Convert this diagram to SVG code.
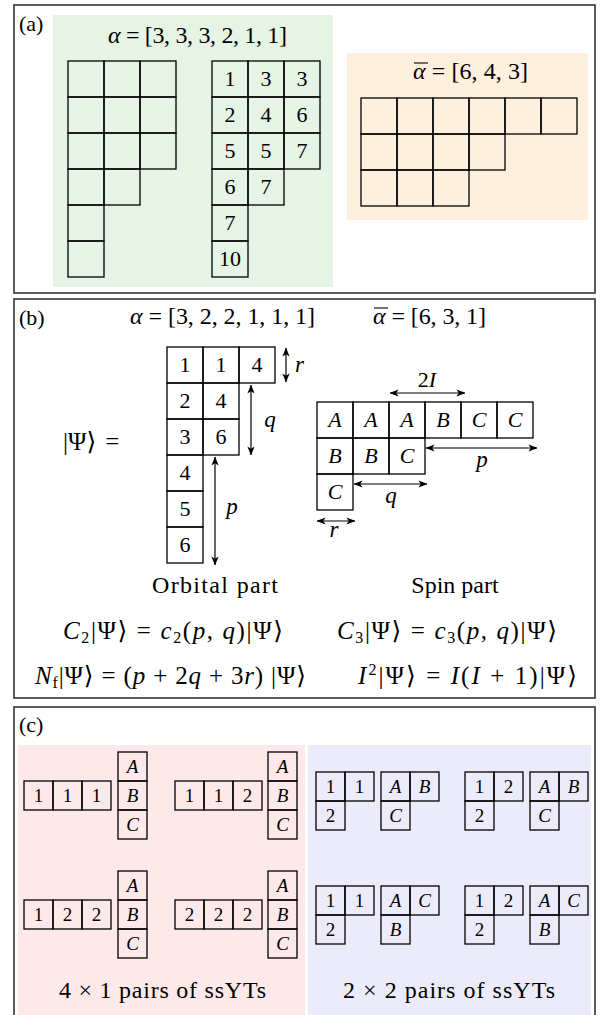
<svg xmlns="http://www.w3.org/2000/svg" width="602" height="1015" viewBox="0 0 602 1015">
<style>
text{font-family:"Liberation Serif","DejaVu Serif",serif;font-size:22px;fill:#000}
.i{font-style:italic}
.c{text-anchor:middle}
.cell{fill:none;stroke:#000;stroke-width:1.3}
.panel{fill:#fff;stroke:#333;stroke-width:1.6}
.arr{stroke:#000;stroke-width:1.2;fill:none;marker-start:url(#ah);marker-end:url(#ah)}
.sub{font-size:16px}
.eq{font-size:25px}
.sm{font-size:19px}
.big{font-size:24px}
.lab{font-size:23px;font-style:italic}
.ov{stroke:#000;stroke-width:1.1}
</style>
<defs>
<marker id="ah" viewBox="0 0 10 10" refX="9.5" refY="5" markerWidth="9" markerHeight="9" markerUnits="userSpaceOnUse" orient="auto-start-reverse">
<path d="M0,1 L10,5 L0,9 L2.5,5 z" fill="#000"/>
</marker>
</defs>
<rect width="602" height="1015" fill="#fff"/>

<!-- Panel (a) -->
<g id="panel-a">
<rect class="panel" x="14" y="5" width="581" height="288"/>
<rect x="53" y="15" width="280" height="272" fill="#e6f4e6"/>
<rect x="347" y="53" width="241" height="167" fill="#fef0df"/>
<text x="19" y="31">(a)</text>
<text x="108" y="43" class="big" textLength="179" lengthAdjust="spacing"><tspan class="i">α</tspan> = [3, 3, 3, 2, 1, 1]</text>
<text x="413" y="79" class="big" textLength="115" lengthAdjust="spacing"><tspan class="i">α</tspan> = [6, 4, 3]</text>
<line class="ov" x1="414" y1="63" x2="428" y2="63"/>
</g>
<g id="a-shape">
<rect class="cell" x="68" y="61" width="36" height="36"/><rect class="cell" x="104" y="61" width="36" height="36"/><rect class="cell" x="140" y="61" width="36" height="36"/>
<rect class="cell" x="68" y="97" width="36" height="36"/><rect class="cell" x="104" y="97" width="36" height="36"/><rect class="cell" x="140" y="97" width="36" height="36"/>
<rect class="cell" x="68" y="133" width="36" height="36"/><rect class="cell" x="104" y="133" width="36" height="36"/><rect class="cell" x="140" y="133" width="36" height="36"/>
<rect class="cell" x="68" y="169" width="36" height="36"/><rect class="cell" x="104" y="169" width="36" height="36"/>
<rect class="cell" x="68" y="205" width="36" height="36"/>
<rect class="cell" x="68" y="241" width="36" height="36"/>
</g>
<g id="a-filled">
<rect class="cell" x="212" y="61" width="36" height="36"/><rect class="cell" x="248" y="61" width="36" height="36"/><rect class="cell" x="284" y="61" width="36" height="36"/>
<rect class="cell" x="212" y="97" width="36" height="36"/><rect class="cell" x="248" y="97" width="36" height="36"/><rect class="cell" x="284" y="97" width="36" height="36"/>
<rect class="cell" x="212" y="133" width="36" height="36"/><rect class="cell" x="248" y="133" width="36" height="36"/><rect class="cell" x="284" y="133" width="36" height="36"/>
<rect class="cell" x="212" y="169" width="36" height="36"/><rect class="cell" x="248" y="169" width="36" height="36"/>
<rect class="cell" x="212" y="205" width="36" height="36"/>
<rect class="cell" x="212" y="241" width="36" height="36"/>
<text class="c" x="230" y="86">1</text><text class="c" x="266" y="86">3</text><text class="c" x="302" y="86">3</text>
<text class="c" x="230" y="122">2</text><text class="c" x="266" y="122">4</text><text class="c" x="302" y="122">6</text>
<text class="c" x="230" y="158">5</text><text class="c" x="266" y="158">5</text><text class="c" x="302" y="158">7</text>
<text class="c" x="230" y="194">6</text><text class="c" x="266" y="194">7</text>
<text class="c" x="230" y="230">7</text>
<text class="c" x="230" y="266">10</text>
</g>
<g id="a-conj">
<rect class="cell" x="361" y="98" width="36" height="36"/><rect class="cell" x="397" y="98" width="36" height="36"/><rect class="cell" x="433" y="98" width="36" height="36"/><rect class="cell" x="469" y="98" width="36" height="36"/><rect class="cell" x="505" y="98" width="36" height="36"/><rect class="cell" x="541" y="98" width="36" height="36"/>
<rect class="cell" x="361" y="134" width="36" height="36"/><rect class="cell" x="397" y="134" width="36" height="36"/><rect class="cell" x="433" y="134" width="36" height="36"/><rect class="cell" x="469" y="134" width="36" height="36"/>
<rect class="cell" x="361" y="170" width="36" height="36"/><rect class="cell" x="397" y="170" width="36" height="36"/><rect class="cell" x="433" y="170" width="36" height="36"/>
</g>

<!-- Panel (b) -->
<g id="panel-b">
<rect class="panel" x="14" y="299" width="581" height="399"/>
<text x="19" y="325">(b)</text>
<text x="130" y="324" class="big" textLength="185" lengthAdjust="spacing"><tspan class="i">α</tspan> = [3, 2, 2, 1, 1, 1]</text>
<text x="373" y="324" class="big" textLength="113" lengthAdjust="spacing"><tspan class="i">α</tspan> = [6, 3, 1]</text>
<line class="ov" x1="374" y1="308" x2="388" y2="308"/>
<text x="63" y="450" class="eq">|Ψ⟩<tspan dx="9">=</tspan></text>
<text x="215" y="593" class="c big" textLength="126" lengthAdjust="spacing">Orbital part</text>
<text x="455" y="593" class="c big">Spin part</text>
<text x="63" y="639" class="eq" textLength="220" lengthAdjust="spacing"><tspan class="i">C</tspan><tspan class="sub" dy="4">2</tspan><tspan dy="-4">|Ψ⟩ = </tspan><tspan class="i">c</tspan><tspan class="sub" dy="4">2</tspan><tspan dy="-4">(</tspan><tspan class="i">p</tspan>, <tspan class="i">q</tspan>)|Ψ⟩</text>
<text x="337" y="639" class="eq" textLength="220" lengthAdjust="spacing"><tspan class="i">C</tspan><tspan class="sub" dy="4">3</tspan><tspan dy="-4">|Ψ⟩ = </tspan><tspan class="i">c</tspan><tspan class="sub" dy="4">3</tspan><tspan dy="-4">(</tspan><tspan class="i">p</tspan>, <tspan class="i">q</tspan>)|Ψ⟩</text>
<text x="35" y="684" class="eq" textLength="271" lengthAdjust="spacing"><tspan class="i">N</tspan><tspan class="sub" dy="4">f</tspan><tspan dy="-4">|Ψ⟩ = (</tspan><tspan class="i">p</tspan> + 2<tspan class="i">q</tspan> + 3<tspan class="i">r</tspan>) |Ψ⟩</text>
<text x="358" y="684" class="eq" textLength="219" lengthAdjust="spacing"><tspan class="i">I</tspan><tspan class="sub" dy="-9">2</tspan><tspan dy="9">|Ψ⟩ = </tspan><tspan class="i">I</tspan>(<tspan class="i">I</tspan> + 1)|Ψ⟩</text>
</g>
<g id="b-orbital">
<rect class="cell" x="167" y="347" width="36" height="36"/><rect class="cell" x="203" y="347" width="36" height="36"/><rect class="cell" x="239" y="347" width="36" height="36"/>
<rect class="cell" x="167" y="383" width="36" height="36"/><rect class="cell" x="203" y="383" width="36" height="36"/>
<rect class="cell" x="167" y="419" width="36" height="36"/><rect class="cell" x="203" y="419" width="36" height="36"/>
<rect class="cell" x="167" y="455" width="36" height="36"/>
<rect class="cell" x="167" y="491" width="36" height="36"/>
<rect class="cell" x="167" y="527" width="36" height="36"/>
<text class="c" x="185" y="372">1</text><text class="c" x="221" y="372">1</text><text class="c" x="257" y="372">4</text>
<text class="c" x="185" y="408">2</text><text class="c" x="221" y="408">4</text>
<text class="c" x="185" y="444">3</text><text class="c" x="221" y="444">6</text>
<text class="c" x="185" y="480">4</text>
<text class="c" x="185" y="516">5</text>
<text class="c" x="185" y="552">6</text>
</g>
<g id="b-spin">
<rect class="cell" x="317" y="402" width="36" height="36"/><rect class="cell" x="353" y="402" width="36" height="36"/><rect class="cell" x="389" y="402" width="36" height="36"/><rect class="cell" x="425" y="402" width="36" height="36"/><rect class="cell" x="461" y="402" width="36" height="36"/><rect class="cell" x="497" y="402" width="36" height="36"/>
<rect class="cell" x="317" y="438" width="36" height="36"/><rect class="cell" x="353" y="438" width="36" height="36"/><rect class="cell" x="389" y="438" width="36" height="36"/>
<rect class="cell" x="317" y="474" width="36" height="36"/>
<text class="c i" x="335" y="427">A</text><text class="c i" x="371" y="427">A</text><text class="c i" x="407" y="427">A</text><text class="c i" x="443" y="427">B</text><text class="c i" x="479" y="427">C</text><text class="c i" x="515" y="427">C</text>
<text class="c i" x="335" y="463">B</text><text class="c i" x="371" y="463">B</text><text class="c i" x="407" y="463">C</text>
<text class="c i" x="335" y="499">C</text>
</g>
<g id="connectors">
<line class="arr" x1="286" y1="348" x2="286" y2="382"/>
<line class="arr" x1="251" y1="385" x2="251" y2="455"/>
<line class="arr" x1="215" y1="457" x2="215" y2="565"/>
<line class="arr" x1="390" y1="393" x2="465" y2="393"/>
<line class="arr" x1="426" y1="448" x2="537" y2="448"/>
<line class="arr" x1="354" y1="484" x2="427" y2="484"/>
<line class="arr" x1="317" y1="521" x2="355" y2="521"/>
<text class="lab" x="295" y="372">r</text>
<text class="lab c" x="270" y="427">q</text>
<text class="lab c" x="232" y="514">p</text>
<text class="c" x="427" y="387" font-size="23">2<tspan class="i">I</tspan></text>
<text class="lab c" x="482" y="467">p</text>
<text class="lab c" x="391" y="503">q</text>
<text class="lab c" x="334" y="537">r</text>
</g>

<!-- Panel (c) -->
<g id="panel-c">
<rect class="panel" x="14" y="707" width="581" height="320"/>
<rect x="18" y="745" width="287" height="270" fill="#fde9e9"/>
<rect x="308" y="745" width="283" height="270" fill="#ebebfa"/>
<text x="19" y="732">(c)</text>
<text x="59" y="998" class="big" textLength="207" lengthAdjust="spacing">4 × 1 pairs of ssYTs</text>
<text x="343" y="998" class="big" textLength="212" lengthAdjust="spacing">2 × 2 pairs of ssYTs</text>
</g>
<g id="c-p1">
<rect class="cell" x="24" y="781" width="29" height="29"/><rect class="cell" x="53" y="781" width="29" height="29"/><rect class="cell" x="82" y="781" width="29" height="29"/>
<text class="c sm" x="38.5" y="802">1</text><text class="c sm" x="67.5" y="802">1</text><text class="c sm" x="96.5" y="802">1</text>
<rect class="cell" x="118" y="752" width="29" height="29"/><rect class="cell" x="118" y="781" width="29" height="29"/><rect class="cell" x="118" y="810" width="29" height="29"/>
<text class="c i sm" x="132.5" y="773">A</text><text class="c i sm" x="132.5" y="802">B</text><text class="c i sm" x="132.5" y="831">C</text>
</g>
<g id="c-p2">
<rect class="cell" x="175" y="781" width="29" height="29"/><rect class="cell" x="204" y="781" width="29" height="29"/><rect class="cell" x="233" y="781" width="29" height="29"/>
<text class="c sm" x="189.5" y="802">1</text><text class="c sm" x="218.5" y="802">1</text><text class="c sm" x="247.5" y="802">2</text>
<rect class="cell" x="268" y="752" width="29" height="29"/><rect class="cell" x="268" y="781" width="29" height="29"/><rect class="cell" x="268" y="810" width="29" height="29"/>
<text class="c i sm" x="282.5" y="773">A</text><text class="c i sm" x="282.5" y="802">B</text><text class="c i sm" x="282.5" y="831">C</text>
</g>
<g id="c-p3">
<rect class="cell" x="24" y="900" width="29" height="29"/><rect class="cell" x="53" y="900" width="29" height="29"/><rect class="cell" x="82" y="900" width="29" height="29"/>
<text class="c sm" x="38.5" y="921">1</text><text class="c sm" x="67.5" y="921">2</text><text class="c sm" x="96.5" y="921">2</text>
<rect class="cell" x="118" y="871" width="29" height="29"/><rect class="cell" x="118" y="900" width="29" height="29"/><rect class="cell" x="118" y="929" width="29" height="29"/>
<text class="c i sm" x="132.5" y="892">A</text><text class="c i sm" x="132.5" y="921">B</text><text class="c i sm" x="132.5" y="950">C</text>
</g>
<g id="c-p4">
<rect class="cell" x="175" y="900" width="29" height="29"/><rect class="cell" x="204" y="900" width="29" height="29"/><rect class="cell" x="233" y="900" width="29" height="29"/>
<text class="c sm" x="189.5" y="921">2</text><text class="c sm" x="218.5" y="921">2</text><text class="c sm" x="247.5" y="921">2</text>
<rect class="cell" x="268" y="871" width="29" height="29"/><rect class="cell" x="268" y="900" width="29" height="29"/><rect class="cell" x="268" y="929" width="29" height="29"/>
<text class="c i sm" x="282.5" y="892">A</text><text class="c i sm" x="282.5" y="921">B</text><text class="c i sm" x="282.5" y="950">C</text>
</g>
<g id="c-b1">
<rect class="cell" x="316" y="772" width="29" height="29"/><rect class="cell" x="345" y="772" width="29" height="29"/><rect class="cell" x="316" y="801" width="29" height="29"/>
<text class="c sm" x="330.5" y="793">1</text><text class="c sm" x="359.5" y="793">1</text><text class="c sm" x="330.5" y="822">2</text>
<rect class="cell" x="381" y="772" width="29" height="29"/><rect class="cell" x="410" y="772" width="29" height="29"/><rect class="cell" x="381" y="801" width="29" height="29"/>
<text class="c i sm" x="395.5" y="793">A</text><text class="c i sm" x="424.5" y="793">B</text><text class="c i sm" x="395.5" y="822">C</text>
</g>
<g id="c-b2">
<rect class="cell" x="465" y="772" width="29" height="29"/><rect class="cell" x="494" y="772" width="29" height="29"/><rect class="cell" x="465" y="801" width="29" height="29"/>
<text class="c sm" x="479.5" y="793">1</text><text class="c sm" x="508.5" y="793">2</text><text class="c sm" x="479.5" y="822">2</text>
<rect class="cell" x="530" y="772" width="29" height="29"/><rect class="cell" x="559" y="772" width="29" height="29"/><rect class="cell" x="530" y="801" width="29" height="29"/>
<text class="c i sm" x="544.5" y="793">A</text><text class="c i sm" x="573.5" y="793">B</text><text class="c i sm" x="544.5" y="822">C</text>
</g>
<g id="c-b3">
<rect class="cell" x="316" y="886" width="29" height="29"/><rect class="cell" x="345" y="886" width="29" height="29"/><rect class="cell" x="316" y="915" width="29" height="29"/>
<text class="c sm" x="330.5" y="907">1</text><text class="c sm" x="359.5" y="907">1</text><text class="c sm" x="330.5" y="936">2</text>
<rect class="cell" x="381" y="886" width="29" height="29"/><rect class="cell" x="410" y="886" width="29" height="29"/><rect class="cell" x="381" y="915" width="29" height="29"/>
<text class="c i sm" x="395.5" y="907">A</text><text class="c i sm" x="424.5" y="907">C</text><text class="c i sm" x="395.5" y="936">B</text>
</g>
<g id="c-b4">
<rect class="cell" x="465" y="886" width="29" height="29"/><rect class="cell" x="494" y="886" width="29" height="29"/><rect class="cell" x="465" y="915" width="29" height="29"/>
<text class="c sm" x="479.5" y="907">1</text><text class="c sm" x="508.5" y="907">2</text><text class="c sm" x="479.5" y="936">2</text>
<rect class="cell" x="530" y="886" width="29" height="29"/><rect class="cell" x="559" y="886" width="29" height="29"/><rect class="cell" x="530" y="915" width="29" height="29"/>
<text class="c i sm" x="544.5" y="907">A</text><text class="c i sm" x="573.5" y="907">C</text><text class="c i sm" x="544.5" y="936">B</text>
</g>
</svg>
